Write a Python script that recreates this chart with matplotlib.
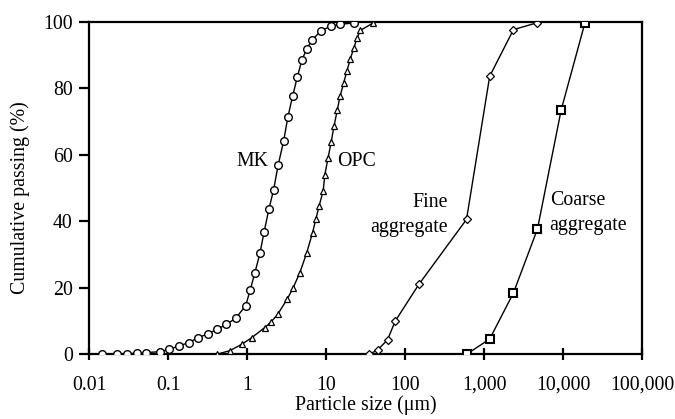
import matplotlib
matplotlib.use("Agg")
import matplotlib.pyplot as plt
from matplotlib.ticker import FixedLocator, NullLocator

plt.rcParams['font.family'] = ['Liberation Serif', 'DejaVu Serif']

mk_size = [0.0146, 0.0226, 0.0297, 0.040, 0.052, 0.0785, 0.103, 0.136, 0.181, 0.238,
           0.315, 0.413, 0.542, 0.713, 0.955, 1.09, 1.25, 1.45, 1.64, 1.88, 2.16,
           2.47, 2.89, 3.27, 3.76, 4.30, 4.92, 5.65, 6.59, 8.65, 11.4, 14.9, 22.4]
mk_pass = [0.0, 0.0, 0.2, 0.3, 0.5, 0.8, 1.5, 2.5, 3.5, 5.0,
           6.1, 7.5, 9.0, 10.8, 14.6, 19.3, 24.5, 30.4, 36.9, 43.6, 49.5,
           57.0, 64.1, 71.3, 77.7, 83.3, 88.5, 91.8, 94.5, 97.4, 98.7, 99.3, 99.7]

opc_size = [0.41, 0.604, 0.865, 1.14, 1.66, 1.98, 2.43, 3.21, 3.82, 4.65, 5.65,
            6.73, 7.41, 8.15, 9.16, 9.63, 10.6, 11.6, 12.6, 13.8, 15.0, 16.6,
            18.3, 20.3, 22.4, 24.7, 27.2, 39.4]
opc_pass = [0.0, 1.1, 3.1, 5.0, 8.0, 9.6, 12.0, 16.6, 20.0, 24.6, 30.4,
            36.6, 40.7, 44.7, 49.1, 54.1, 59.2, 64.0, 68.7, 73.4, 77.6, 81.5,
            85.2, 89.0, 92.1, 95.3, 97.5, 99.7]

fine_size = [35, 45, 60, 75, 150, 600, 1180, 2360, 4750]
fine_pass = [0.0, 1.3, 4.4, 10.0, 21.1, 40.6, 83.7, 97.7, 99.8]

coarse_size = [600, 1180, 2360, 4750, 9500, 19000]
coarse_pass = [0.0, 4.6, 18.5, 37.7, 73.6, 99.8]

x_ticks = [0.01, 0.1, 1, 10, 100, 1000, 10000, 100000]
x_tick_labels = ["0.01", "0.1", "1", "10", "100", "1,000", "10,000", "100,000"]
y_ticks = [0, 20, 40, 60, 80, 100]

fs = 14.3

fig = plt.figure(figsize=(6.75, 4.19), dpi=100)
ax = fig.add_axes([0.1323, 0.1544, 0.8187, 0.7931])

ax.plot(mk_size, mk_pass, color='black', lw=1.0, marker='o', ms=5.5,
        mfc='white', mec='black', mew=1.0, zorder=3)
ax.plot(opc_size, opc_pass, color='black', lw=1.0, marker='^', ms=4.0,
        mfc='white', mec='black', mew=0.9, zorder=3)
ax.plot(fine_size, fine_pass, color='black', lw=1.0, marker='D', ms=4.0,
        mfc='white', mec='black', mew=0.9, zorder=3)
ax.plot(coarse_size, coarse_pass, color='black', lw=1.0, marker='s', ms=5.8,
        mfc='white', mec='black', mew=1.5, zorder=3)

ax.set_xscale('log')
ax.set_xlim(0.01, 100000)
ax.set_ylim(0, 100)
ax.xaxis.set_major_locator(FixedLocator(x_ticks))
ax.xaxis.set_minor_locator(NullLocator())
ax.set_xticklabels(x_tick_labels)
ax.set_yticks(y_ticks)

for s in ax.spines.values():
    s.set_linewidth(1.6)
ax.tick_params(axis='x', direction='inout', length=9, width=1.6, labelsize=fs, pad=11)
ax.tick_params(axis='y', direction='out', length=7, width=1.6, labelsize=fs, pad=5)

ax.set_xlabel("Particle size (\u03bcm)", fontsize=fs, labelpad=0)
ax.set_ylabel("Cumulative passing (%)", fontsize=14.3)
ax.yaxis.set_label_coords(-0.107, 0.472)

ax.text(1.88, 58, "MK", fontsize=fs, ha='right', va='center')
ax.text(13.9, 58, "OPC", fontsize=fs, ha='left', va='center')
ax.text(350, 42, "Fine\naggregate", fontsize=fs, ha='right', va='center',
        multialignment='right', linespacing=1.4)
ax.text(6790, 42.5, "Coarse\naggregate", fontsize=fs, ha='left', va='center',
        multialignment='left', linespacing=1.4)

fig.savefig("out.png", dpi=100)
